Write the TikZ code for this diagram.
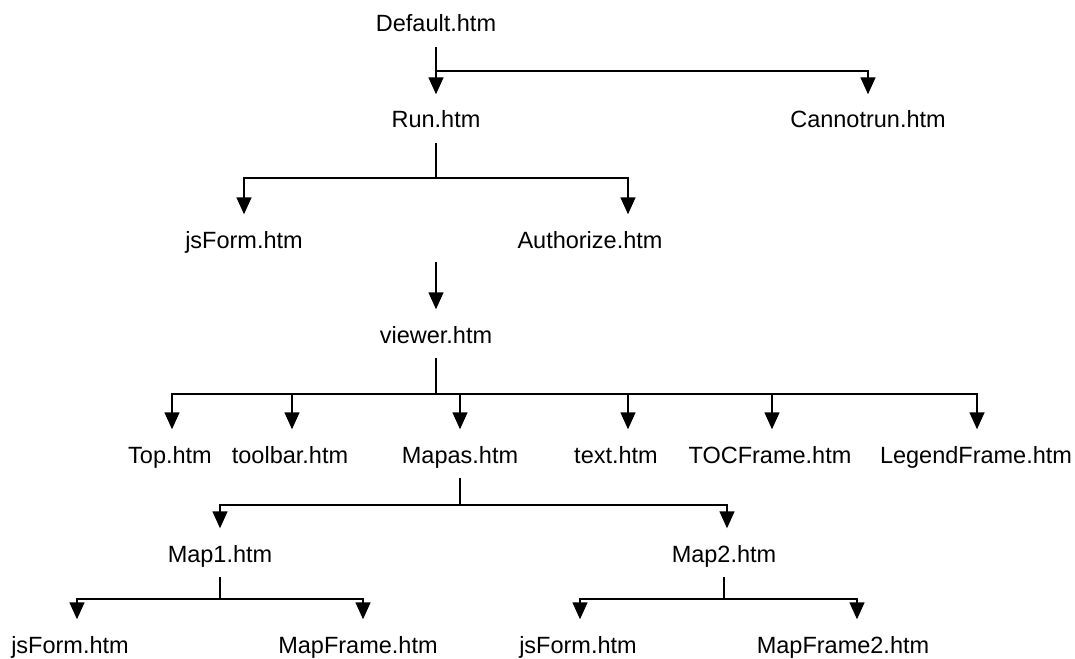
\documentclass[tikz,border=0pt]{standalone}
\usepackage{fontspec}
\setmainfont{Liberation Sans}
\usetikzlibrary{arrows.meta}

\begin{document}
\begin{tikzpicture}[x=1pt,y=-1pt,line width=1.4pt,
	page/.style={anchor=base,inner sep=0pt,text height=17pt,text depth=5pt,font=\fontsize{23.5}{28}\selectfont},
	arr/.style={-{Triangle[length=17pt,width=15pt]},shorten >=16pt},
	stem/.style={shorten <=9pt}]
	\useasboundingbox (0,0) rectangle (1075,658);
	% pages
	\node[page] (default) at (436,32) {Default.htm};
	\node[page] (run) at (436,128) {Run.htm};
	\node[page] (cannot) at (868,128) {Cannotrun.htm};
	\node[page] (jsform) at (244,248) {jsForm.htm};
	\node[page] (auth) at (590,248) {Authorize.htm};
	\node[page] (viewer) at (436,343) {viewer.htm};
	\node[page] (top) at (170,463) {Top.htm};
	\node[page] (toolbar) at (290,463) {toolbar.htm};
	\node[page] (mapas) at (460,463) {Mapas.htm};
	\node[page] (text) at (616,463) {text.htm};
	\node[page] (toc) at (770,463) {TOCFrame.htm};
	\node[page] (legend) at (976,463) {LegendFrame.htm};
	\node[page] (mapone) at (220,562) {Map1.htm};
	\node[page] (maptwo) at (724,562) {Map2.htm};
	\node[page] (jsformone) at (70,653) {jsForm.htm};
	\node[page] (frameone) at (358,653) {MapFrame.htm};
	\node[page] (jsformtwo) at (578,653) {jsForm.htm};
	\node[page] (frametwo) at (843,653) {MapFrame2.htm};
	% junctions
	\coordinate (defbar) at (436,71);
	\coordinate (runbar) at (436,178);
	\coordinate (authout) at (436,262);
	\coordinate (viewbar) at (436,394);
	\coordinate (mapasbar) at (460,505);
	\coordinate (onebar) at (220,599);
	\coordinate (twobar) at (724,599);
	% links
	\draw[arr,stem] (default) -- (run);
	\draw[arr] (defbar) -| (cannot);
	\draw[stem] (run) -- (runbar);
	\draw[arr] (runbar) -| (jsform);
	\draw[arr] (runbar) -| ([xshift=38pt]auth.north);
	\draw[arr] (authout) -- (viewer);
	\draw[stem] (viewer) -- (viewbar);
	\draw[arr] (viewbar) -| ([xshift=2pt]top.north);
	\draw[arr] (viewbar) -| ([xshift=2pt]toolbar.north);
	\draw[arr] (viewbar) -| (mapas);
	\draw[arr] (viewbar) -| ([xshift=12pt]text.north);
	\draw[arr] (viewbar) -| ([xshift=2pt]toc.north);
	\draw[arr] (viewbar) -| ([xshift=1pt]legend.north);
	\draw[stem] (mapas) -- (mapasbar);
	\draw[arr] (mapasbar) -| (mapone);
	\draw[arr] (mapasbar) -| ([xshift=3pt]maptwo.north);
	\draw[stem] (mapone) -- (onebar);
	\draw[arr] (onebar) -| ([xshift=7pt]jsformone.north);
	\draw[arr] (onebar) -| ([xshift=5pt]frameone.north);
	\draw[stem] (maptwo) -- (twobar);
	\draw[arr] (twobar) -| ([xshift=2pt]jsformtwo.north);
	\draw[arr] (twobar) -| ([xshift=14pt]frametwo.north);
\end{tikzpicture}
\end{document}
